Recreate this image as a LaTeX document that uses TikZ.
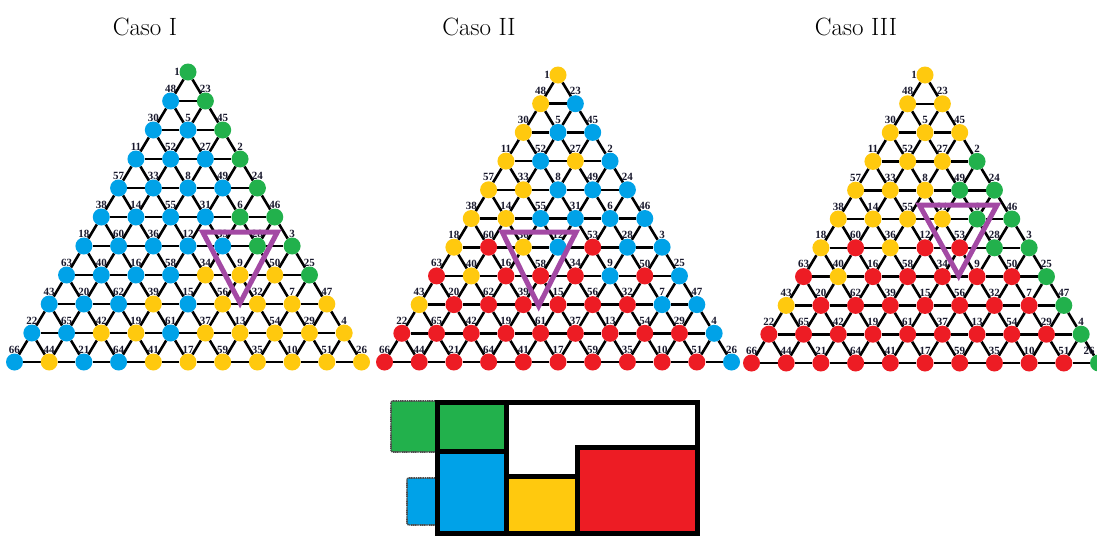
\documentclass[tikz,border=0pt]{standalone}
\usepackage{fontspec}
\newfontfamily\lblfont{Liberation Serif}
\usetikzlibrary{calc}
\pgfdeclarelayer{paper}
\pgfdeclarelayer{background}
\pgfsetlayers{paper,background,main}
\definecolor{cG}{RGB}{34,177,76}
\definecolor{cB}{RGB}{0,162,232}
\definecolor{cY}{RGB}{255,201,14}
\definecolor{cR}{RGB}{237,28,36}
\definecolor{cpurple}{RGB}{163,73,164}
\definecolor{lblcol}{RGB}{25,25,45}
\tikzset{
  dot/.style={circle, minimum size=17pt, inner sep=0pt},
  lbl/.style={font=\lblfont\bfseries\fontsize{11}{11}\selectfont, text=lblcol, inner sep=0.3pt},
  gridline/.style={line width=2.6pt, black},
  marker/.style={draw=cpurple, line width=5pt, line join=miter},
  title/.style={font=\fontsize{25}{30}\selectfont},
  cellbox/.style={draw=black, line width=5pt},
  tab/.style={draw=black!70, line width=1.6pt, dash pattern=on 1.2pt off 0.6pt, rounded corners=2pt}
}
\newcommand\drawtri[5]{%
  \foreach \row [count=\r] in {#5} {
    \foreach \lab/\c [count=\k from 0] in \row {
      \pgfmathsetmacro\xx{#2+(\k-(\r-1)/2)*34.7}
      \pgfmathsetmacro\yy{#3+(\r-1)*#4}
      \node[dot, fill=\c] (#1-\r-\k) at (\xx,\yy) {};
      \ifnum\r=1
        \pgfmathsetmacro\xl{\xx-11}
        \node[lbl] (#1-l-\r-\k) at (\xl,\yy) {\lab};
      \else
        \pgfmathsetmacro\xl{min(\xx,1089)}
        \pgfmathsetmacro\yl{\yy-12.5}
        \node[lbl] (#1-l-\r-\k) at (\xl,\yl) {\lab};
      \fi
    }
  }
  \begin{pgfonlayer}{background}
  \foreach \r in {1,...,11} {
    \pgfmathtruncatemacro\rr{\r+1}
    \pgfmathtruncatemacro\kmax{\r-1}
    \foreach \k in {0,...,\kmax} {
      \pgfmathtruncatemacro\kk{\k+1}
      \ifnum\k<\kmax \draw[gridline] (#1-\r-\k) -- (#1-\r-\kk); \fi
      \ifnum\r<11 \draw[gridline] (#1-\r-\k) -- (#1-\rr-\k) (#1-\r-\k) -- (#1-\rr-\kk); \fi
    }
  }
  \end{pgfonlayer}
}
\begin{document}
\begin{tikzpicture}[x=1pt,y=-1pt]
\useasboundingbox (0,0) rectangle (1097,536);
\begin{pgfonlayer}{paper}
\fill[white] (0,0) rectangle (1097,536);
\end{pgfonlayer}

\node[title] (t1) at (145,27) {Caso I};
\node[title] (t2) at (479,27) {Caso II};
\node[title] (t3) at (856,27) {Caso III};

\drawtri{caseI}{188}{72}{29}{
{1/cG},
{48/cB,23/cG},
{30/cB,5/cB,45/cG},
{11/cB,52/cB,27/cB,2/cG},
{57/cB,33/cB,8/cB,49/cB,24/cG},
{38/cB,14/cB,55/cB,31/cB,6/cG,46/cG},
{18/cB,60/cB,36/cB,12/cB,53/cB,28/cG,3/cG},
{63/cB,40/cB,16/cB,58/cB,34/cY,9/cY,50/cY,25/cG},
{43/cB,20/cB,62/cB,39/cY,15/cB,56/cY,32/cY,7/cY,47/cY},
{22/cB,65/cB,42/cY,19/cY,61/cB,37/cY,13/cY,54/cY,29/cY,4/cY},
{66/cB,44/cY,21/cB,64/cB,41/cY,17/cY,59/cY,35/cY,10/cY,51/cY,26/cY}}

\drawtri{caseII}{558}{75}{28.7}{
{1/cY},
{48/cY,23/cB},
{30/cY,5/cB,45/cB},
{11/cY,52/cB,27/cY,2/cB},
{57/cY,33/cY,8/cB,49/cB,24/cB},
{38/cY,14/cY,55/cB,31/cB,6/cB,46/cB},
{18/cY,60/cR,36/cY,12/cB,53/cR,28/cB,3/cB},
{63/cR,40/cY,16/cR,58/cR,34/cR,9/cB,50/cR,25/cB},
{43/cY,20/cR,62/cR,39/cR,15/cR,56/cR,32/cR,7/cB,47/cB},
{22/cR,65/cR,42/cR,19/cR,61/cR,37/cR,13/cR,54/cR,29/cR,4/cB},
{66/cR,44/cR,21/cR,64/cR,41/cR,17/cR,59/cR,35/cR,10/cR,51/cR,26/cB}}

\drawtri{caseIII}{925}{75}{28.8}{
{1/cY},
{48/cY,23/cY},
{30/cY,5/cY,45/cY},
{11/cY,52/cY,27/cY,2/cG},
{57/cY,33/cY,8/cY,49/cG,24/cG},
{38/cY,14/cY,55/cY,31/cY,6/cG,46/cG},
{18/cY,60/cR,36/cY,12/cR,53/cR,28/cG,3/cG},
{63/cR,40/cY,16/cR,58/cR,34/cR,9/cR,50/cR,25/cG},
{43/cY,20/cR,62/cR,39/cR,15/cR,56/cR,32/cR,7/cR,47/cG},
{22/cR,65/cR,42/cR,19/cR,61/cR,37/cR,13/cR,54/cR,29/cR,4/cG},
{66/cR,44/cR,21/cR,64/cR,41/cR,17/cR,59/cR,35/cR,10/cR,51/cR,26/cG}}

% purple markers
\draw[marker] ($(caseI-7-4.center)+(-20,-14)$) -- ($(caseI-7-5.center)+(20,-14)$) -- ($(caseI-8-5.center)+(0,28)$) -- cycle;
\draw[marker] ($(caseII-7-2.center)+(-21,-15)$) -- ($(caseII-7-3.center)+(18,-15)$) -- ($(caseII-8-3.center)+(-2,30)$) -- cycle;
\draw[marker] ($(caseIII-6-3.center)+(-23,-14)$) -- ($(caseIII-6-4.center)+(20,-14)$) -- ($(caseIII-7-4.center)+(-1,28)$) -- cycle;

% legend
\fill[cG] (391,401) rectangle (437,452);
\draw[tab] (437,401) -- (391,401) -- (391,452) -- (437,452);
\fill[cB] (407,478) rectangle (437,525);
\draw[tab] (437,478) -- (407,478) -- (407,525) -- (437,525);
\fill[white] (437,402) rectangle (697,533);
\fill[cG] (437,402) rectangle (506,451);
\fill[cB] (437,451) rectangle (506,533);
\fill[cY] (506,476) rectangle (577,533);
\fill[cR] (577,447) rectangle (697,533);
\draw[cellbox] (437,402) rectangle (506,451);
\draw[cellbox] (437,451) rectangle (506,533);
\draw[cellbox] (506,476) rectangle (577,533);
\draw[cellbox] (577,447) rectangle (697,533);
\draw[cellbox] (437,402) rectangle (697,533);
\end{tikzpicture}
\end{document}
